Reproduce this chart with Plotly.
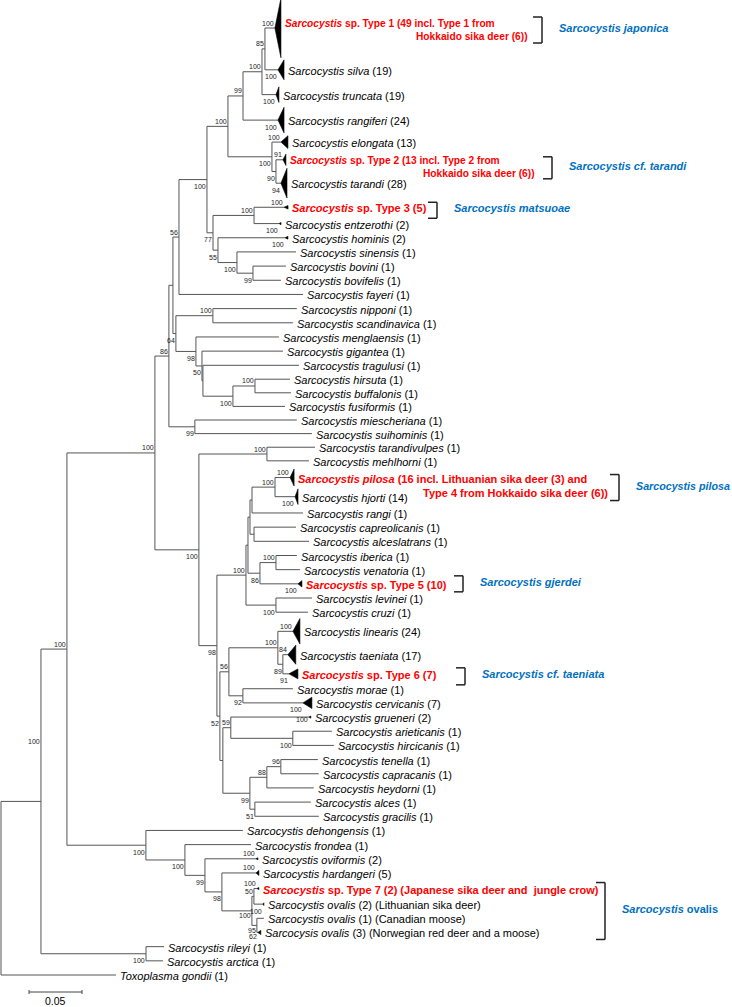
import plotly.graph_objects as go

# ---------------------------------------------------------------- tree data
node_ids = [
    "root", "I", "Toxo", "H", "RA", "rileyi", "arctica", "G", "J", "dehongensis",
    "K", "frondea", "L", "oviformis", "M", "hardangeri", "N", "TO", "Type7", "ovalis2",
    "CN", "ovalis1", "ovalis3", "F", "Q", "E", "MS", "miescheriana", "suihominis", "N56",
    "D", "X1", "fayeri", "N228", "N77", "N99", "NE", "N100a", "rangiferi", "N85",
    "truncata", "Type1", "silva", "elongata", "NT", "Type2", "tarandi", "N3E", "N55", "Type3",
    "entzerothi", "hominis", "NS", "sinensis", "NB", "bovini", "bovifelis", "NN", "C", "nipponi",
    "scandinavica", "menglaensis", "B", "gigantea", "A", "tragulusi", "HBF", "HB", "fusiformis", "hirsuta",
    "buffalonis", "TM", "R", "tarandivulpes", "mehlhorni", "S", "N52", "VW", "LC", "V",
    "W2", "T", "U", "PH", "rangi", "pilosa", "hjorti", "capreolicanis", "alceslatrans", "W",
    "Type5", "iberica", "venatoria", "levinei", "cruzi", "N56b", "X", "LT", "MC", "linearis",
    "TT6", "taeniata", "Type6", "morae", "cervicanis", "N59", "Y", "grueneri", "AH", "arieticanis",
    "hircicanis", "N88", "AG", "TC", "heydorni", "tenella", "capracanis", "alces", "gracilis",
]
parent_ids = [
    None, "root", "root", "I", "I", "RA", "RA", "H", "H", "J",
    "J", "K", "K", "L", "L", "M", "M", "N", "TO", "TO",
    "N", "CN", "CN", "G", "G", "F", "F", "MS", "MS", "E",
    "E", "N56", "N56", "X1", "X1", "N228", "N228", "N99", "N99", "N100a",
    "N100a", "N85", "N85", "NE", "NE", "NT", "NT", "N77", "N77", "N3E",
    "N3E", "N55", "N55", "NS", "NS", "NB", "NB", "D", "D", "NN",
    "NN", "C", "C", "B", "B", "A", "A", "HBF", "HBF", "HB",
    "HB", "Q", "Q", "TM", "TM", "R", "R", "S", "S", "VW",
    "VW", "V", "V", "T", "T", "PH", "PH", "U", "U", "W2",
    "W2", "W", "W", "LC", "LC", "N52", "N52", "N56b", "N56b", "LT",
    "LT", "TT6", "TT6", "MC", "MC", "X", "X", "N59", "N59", "AH",
    "AH", "Y", "Y", "N88", "N88", "TC", "TC", "AG", "AG",
]
branch_lengths = [
    0.0, 0.0377, 0.1085, 0.0245, 0.0991, 0.0170, 0.0160, 0.0830, 0.0745, 0.0915,
    0.0368, 0.0623, 0.0189, 0.0481, 0.0160, 0.0321, 0.0283, 0.0019, 0.0028, 0.0085,
    0.0047, 0.0066, 0.0009, 0.0132, 0.0415, 0.0038, 0.0245, 0.0962, 0.1104, 0.0057,
    0.0028, 0.0264, 0.1170, 0.0198, 0.0057, 0.0142, 0.0415, 0.0179, 0.0330, 0.0028,
    0.0132, 0.0094, 0.0123, 0.0085, 0.0038, 0.0066, 0.0047, 0.0387, 0.0047, 0.0283,
    0.0236, 0.0632, 0.0179, 0.0557, 0.0151, 0.0311, 0.0264, 0.0349, 0.0189, 0.0792,
    0.0755, 0.0783, 0.0057, 0.0764, 0.0009, 0.0906, 0.0283, 0.0208, 0.0491, 0.0330,
    0.0340, 0.0642, 0.0170, 0.0453, 0.0396, 0.0274, 0.0028, 0.0019, 0.0283, 0.0019,
    0.0113, 0.0019, 0.0038, 0.0217, 0.0481, 0.0142, 0.0189, 0.0396, 0.0519, 0.0151,
    0.0358, 0.0198, 0.0226, 0.0340, 0.0302, 0.0085, 0.0028, 0.0462, 0.0132, 0.0142,
    0.0047, 0.0047, 0.0057, 0.0472, 0.0566, 0.0075, 0.0255, 0.0736, 0.0585, 0.0368,
    0.0387, 0.0160, 0.0047, 0.0132, 0.0443, 0.0349, 0.0358, 0.0528, 0.0604,
]

# leaves, top to bottom
leaf_order = [
    "Type1", "silva", "truncata", "rangiferi", "elongata", "Type2", "tarandi", "Type3",
    "entzerothi", "hominis", "sinensis", "bovini", "bovifelis", "fayeri", "nipponi",
    "scandinavica", "menglaensis", "gigantea", "tragulusi", "hirsuta", "buffalonis",
    "fusiformis", "miescheriana", "suihominis", "tarandivulpes", "mehlhorni", "pilosa",
    "hjorti", "rangi", "capreolicanis", "alceslatrans", "iberica", "venatoria", "Type5",
    "levinei", "cruzi", "linearis", "taeniata", "Type6", "morae", "cervicanis", "grueneri",
    "arieticanis", "hircicanis", "tenella", "capracanis", "heydorni", "alces", "gracilis",
    "dehongensis", "frondea", "oviformis", "hardangeri", "Type7", "ovalis2", "ovalis1",
    "ovalis3", "rileyi", "arctica", "Toxo",
]
leaf_species = [
    "Sarcocystis", "Sarcocystis silva", "Sarcocystis truncata", "Sarcocystis rangiferi",
    "Sarcocystis elongata", "Sarcocystis", "Sarcocystis tarandi", "Sarcocystis",
    "Sarcocystis entzerothi", "Sarcocystis hominis", "Sarcocystis sinensis", "Sarcocystis bovini",
    "Sarcocystis bovifelis", "Sarcocystis fayeri", "Sarcocystis nipponi",
    "Sarcocystis scandinavica", "Sarcocystis menglaensis", "Sarcocystis gigantea",
    "Sarcocystis tragulusi", "Sarcocystis hirsuta", "Sarcocystis buffalonis",
    "Sarcocystis fusiformis", "Sarcocystis miescheriana", "Sarcocystis suihominis",
    "Sarcocystis tarandivulpes", "Sarcocystis mehlhorni", "Sarcocystis pilosa",
    "Sarcocystis hjorti", "Sarcocystis rangi", "Sarcocystis capreolicanis",
    "Sarcocystis alceslatrans", "Sarcocystis iberica", "Sarcocystis venatoria", "Sarcocystis",
    "Sarcocystis levinei", "Sarcocystis cruzi", "Sarcocystis linearis", "Sarcocystis taeniata",
    "Sarcocystis", "Sarcocystis morae", "Sarcocystis cervicanis", "Sarcocystis grueneri",
    "Sarcocystis arieticanis", "Sarcocystis hircicanis", "Sarcocystis tenella",
    "Sarcocystis capracanis", "Sarcocystis heydorni", "Sarcocystis alces", "Sarcocystis gracilis",
    "Sarcocystis dehongensis", "Sarcocystis frondea", "Sarcocystis oviformis",
    "Sarcocystis hardangeri", "Sarcocystis", "Sarcocystis ovalis", "Sarcocystis ovalis",
    "Sarcocysis ovalis", "Sarcocystis rileyi", "Sarcocystis arctica", "Toxoplasma gondii",
]
leaf_suffix = [
    " sp. Type 1 (49 incl. Type 1 from", " (19)", " (19)", " (24)", " (13)",
    " sp. Type 2 (13 incl. Type 2 from", " (28)", " sp. Type 3 (5)", " (2)", " (2)",
    " (1)", " (1)", " (1)", " (1)", " (1)", " (1)", " (1)", " (1)", " (1)", " (1)",
    " (1)", " (1)", " (1)", " (1)", " (1)", " (1)",
    " (16 incl. Lithuanian sika deer (3) and", " (14)", " (1)", " (1)", " (1)", " (1)",
    " (1)", " sp. Type 5 (10)", " (1)", " (1)", " (24)", " (17)", " sp. Type 6 (7)",
    " (1)", " (7)", " (2)", " (1)", " (1)", " (1)", " (1)", " (1)", " (1)", " (1)",
    " (1)", " (1)", " (2)", " (5)",
    " sp. Type 7 (2) (Japanese sika deer and\u00a0 jungle crow)",
    " (2) (Lithuanian sika deer)", " (1) (Canadian moose)",
    " (3) (Norwegian red deer and a moose)", " (1)", " (1)", " (1)",
]
red_leaves = ["Type1", "Type2", "Type3", "pilosa", "Type5", "Type6", "Type7"]
second_line_text = {
    "Type1": "Hokkaido sika deer (6))",
    "Type2": "Hokkaido sika deer (6))",
    "pilosa": "Type 4 from Hokkaido sika deer (6))",
}

# collapsed clades (triangles): depth of the collapsed clade
collapsed_ids = ["Type1", "silva", "truncata", "rangiferi", "elongata", "Type2", "tarandi",
                 "Type3", "entzerothi", "hominis", "pilosa", "hjorti", "Type5", "linearis",
                 "taeniata", "Type6", "cervicanis", "grueneri", "oviformis", "hardangeri",
                 "Type7", "ovalis2", "ovalis3"]
collapsed_depth = [0.0057, 0.0057, 0.0028, 0.0057, 0.0066, 0.0028, 0.0057,
                   0.0038, 0.0019, 0.0028, 0.0038, 0.0028, 0.0038, 0.0066,
                   0.0075, 0.0085, 0.0085, 0.0019, 0.0019, 0.0028,
                   0.0019, 0.0009, 0.0028]

# bootstrap support
support = {
    "Type1": 100, "silva": 100, "N85": 85, "truncata": 100, "N100a": 100, "N99": 99,
    "rangiferi": 100, "N228": 100, "elongata": 100, "NE": 100, "Type2": 91, "NT": 90,
    "tarandi": 94, "X1": 100, "Type3": 100, "N3E": 100, "entzerothi": 100, "N77": 77,
    "hominis": 100, "N55": 55, "NS": 100, "NB": 99, "N56": 56, "NN": 100, "D": 64,
    "C": 98, "B": 50, "HBF": 100, "HB": 100, "F": 86, "MS": 99, "G": 100, "TM": 100,
    "Q": 100, "pilosa": 100, "PH": 100, "hjorti": 100, "W": 100, "S": 100, "W2": 86,
    "Type5": 100, "LC": 100, "linearis": 100, "LT": 100, "taeniata": 84, "TT6": 89,
    "Type6": 91, "N56b": 56, "MC": 92, "cervicanis": 100, "R": 98, "grueneri": 100,
    "N59": 59, "AH": 100, "N52": 52, "TC": 96, "N88": 88, "Y": 99, "AG": 51, "H": 100,
    "J": 100, "K": 100, "oviformis": 100, "L": 99, "hardangeri": 100, "M": 98,
    "Type7": 100, "TO": 50, "ovalis2": 100, "N": 100, "CN": 95, "ovalis3": 62,
    "RA": 100, "I": 100,
}

group_names = ["Sarcocystis japonica", "Sarcocystis cf. tarandi", "Sarcocystis matsuoae",
               "Sarcocystis pilosa", "Sarcocystis gjerdei", "Sarcocystis cf. taeniata",
               "Sarcocystis ovalis"]
group_first = ["Type1", "Type2", "Type3", "pilosa", "Type5", "Type6", "Type7"]
group_last = ["Type1", "Type2", "Type3", "pilosa", "Type5", "Type6", "ovalis3"]

scale_bar_value = 0.05

# ---------------------------------------------------------------- display style
W_PX, H_PX = 732, 1007
PX_PER_UNIT = 1060.0          # horizontal scale (0.05 substitutions = 53 px)
FIRST_LEAF_PX, LAST_LEAF_PX = 28, 975
FONT = "Liberation Sans, Arial, sans-serif"
LINE_COLOR = "#555555"
RED = "#FF0000"
BLUE = "#0070C0"
GAP_PX = 4
label_size = {"Type1": 10.2, "Type2": 10.2}
row_weight = {"Type1": 4.2, "silva": 1.7, "truncata": 1.8, "rangiferi": 1.8, "elongata": 1.3,
              "Type2": 1.2, "tarandi": 2.1, "Type3": 1.3, "hirsuta": 0.96, "buffalonis": 0.96,
              "fusiformis": 0.96, "miescheriana": 0.96, "suihominis": 0.96,
              "tarandivulpes": 0.96, "mehlhorni": 0.96, "pilosa": 1.4, "hjorti": 1.3,
              "linearis": 1.7, "taeniata": 1.6, "Type6": 1.1, "Type7": 1.2}
tri_rows = {"Type1": 4.2, "silva": 1.4, "truncata": 1.1, "rangiferi": 1.8, "elongata": 0.9,
            "Type2": 0.8, "tarandi": 2.1, "Type3": 0.25, "entzerothi": 0.15, "hominis": 0.2,
            "pilosa": 1.2, "hjorti": 1.1, "Type5": 0.45, "linearis": 1.8, "taeniata": 1.35,
            "Type6": 0.7, "cervicanis": 0.8, "grueneri": 0.15, "oviformis": 0.15,
            "hardangeri": 0.35, "Type7": 0.15, "ovalis2": 0.2, "ovalis3": 0.3}
support_above = {"Type1", "N85", "N100a", "N99", "N228", "elongata", "Type2", "Type3", "N3E",
                 "N56", "NN", "HB", "F", "G", "TM", "pilosa", "PH", "W", "S", "linearis", "LT",
                 "taeniata", "N56b", "N59", "TC", "N88", "H", "oviformis", "hardangeri",
                 "Type7", "TO"}
support_dy_special = {"grueneri": 2, "CN": 5, "ovalis3": 4, "N": 5, "I": -60}
# two-line labels: (dy line1, dy line2, right edge of line2 from label start, px)
two_line_layout = {"Type1": (-5, 8, 243), "Type2": (1, 14, 245), "pilosa": (1.5, 15.5, 310)}
# brackets: (top dy px, bottom dy px, bracket x px, group-label font size)
bracket_layout = [(-11, 15, 542, 11), (-3, 19, 552, 11), (-5, 11, 437, 11),
                  (-3, 23, 619, 10.7), (-8, 8, 463, 11), (-6, 11, 465, 11), (-6, 7, 605, 11)]

# ---------------------------------------------------------------- layout computation
parent = dict(zip(node_ids, parent_ids))
blen = dict(zip(node_ids, branch_lengths))
children = {}
for n, p in zip(node_ids, parent_ids):
    if p is not None:
        children.setdefault(p, []).append(n)
cdepth = dict(zip(collapsed_ids, collapsed_depth))

xpos = {}


def getx(n):
    if n not in xpos:
        p = parent[n]
        xpos[n] = 0.0 if p is None else getx(p) + blen[n]
    return xpos[n]


for n in node_ids:
    getx(n)

ypos = {}
acc = 0.0
for lid in leaf_order:
    w = row_weight.get(lid, 1.0)
    ypos[lid] = acc + w / 2
    acc += w


def gety(n):
    if n not in ypos:
        ys = [gety(c) for c in children[n]]
        ypos[n] = (min(ys) + max(ys)) / 2
    return ypos[n]


gety("root")

c0 = ypos[leaf_order[0]]
c1 = ypos[leaf_order[-1]]
S_PX = (LAST_LEAF_PX - FIRST_LEAF_PX) / (c1 - c0)   # px per row


def row_at_px(px):
    return c0 + (px - FIRST_LEAF_PX) / S_PX


def px2x(px):
    return (px - 1) / PX_PER_UNIT


def drow(n):
    return n / S_PX


# ---------------------------------------------------------------- traces
lx, ly = [], []
for n in node_ids:
    p = parent[n]
    if p is not None:
        lx += [xpos[p], xpos[n], None]
        ly += [ypos[n], ypos[n], None]
    if n in children:
        ys = [ypos[c] for c in children[n]]
        lx += [xpos[n], xpos[n], None]
        ly += [min(ys), max(ys), None]

tx, ty = [], []
for lid in collapsed_ids:
    x0, y0 = xpos[lid], ypos[lid]
    h = tri_rows[lid] / 2
    x1 = x0 + cdepth[lid]
    tx += [x0, x1, x1, x0, None]
    ty += [y0, y0 - h, y0 + h, y0, None]

fig = go.Figure()
fig.add_trace(go.Scatter(x=lx, y=ly, mode="lines", line=dict(color=LINE_COLOR, width=1),
                         hoverinfo="skip", connectgaps=False))
fig.add_trace(go.Scatter(x=tx, y=ty, mode="lines", fill="toself", fillcolor="black",
                         line=dict(color="black", width=0.6), hoverinfo="skip"))

annotations = []


def add_text(x, y, text, size, color, xanchor, xshift=0.0, yshift=0.0):
    annotations.append(dict(x=x, y=y, xref="x", yref="y", text=text, showarrow=False,
                            xanchor=xanchor, yanchor="middle", xshift=xshift, yshift=yshift,
                            borderpad=0, borderwidth=0,
                            font=dict(family=FONT, size=size, color=color)))


# leaf labels
for lid, sp, suf in zip(leaf_order, leaf_species, leaf_suffix):
    tip = xpos[lid] + cdepth.get(lid, 0.0)
    txt = "<i>%s</i>%s" % (sp, suf)
    if lid in red_leaves:
        txt = "<b>%s</b>" % txt
        col = RED
    else:
        col = "black"
    fs = label_size.get(lid, 11)
    if lid in second_line_text:
        d1, d2, right = two_line_layout[lid]
        add_text(tip, ypos[lid], txt, fs, col, "left", xshift=GAP_PX, yshift=-d1)
        add_text(tip, ypos[lid], "<b>%s</b>" % second_line_text[lid], fs, col, "right",
                 xshift=GAP_PX + right, yshift=-d2)
    else:
        add_text(tip, ypos[lid], txt, fs, col, "left", xshift=GAP_PX, yshift=-1)

# support values
for n, v in support.items():
    if n in support_dy_special:
        dy = support_dy_special[n]
    elif n in support_above:
        dy = -5
    else:
        dy = 7
    add_text(xpos[n], ypos[n], str(v), 7, "#222222", "right", xshift=-1, yshift=-dy)

# brackets and group names
shapes = []
for name, first, last, (dtop, dbot, bx, gfs) in zip(group_names, group_first, group_last,
                                                    bracket_layout):
    ytop = ypos[first] + drow(dtop)
    ybot = ypos[last] + drow(dbot)
    xb = px2x(bx)
    xt = px2x(bx - 9)
    for (xa, ya, xb2, yb2) in [(xt, ytop, xb, ytop), (xb, ytop, xb, ybot), (xt, ybot, xb, ybot)]:
        shapes.append(dict(type="line", xref="x", yref="y", x0=xa, y0=ya, x1=xb2, y1=yb2,
                           line=dict(color="#222222", width=1.5)))
    if name.endswith("ovalis"):
        gtxt = "<b><i>Sarcocystis</i> ovalis</b>"
    else:
        gtxt = "<b><i>%s</i></b>" % name
    add_text(xb, (ytop + ybot) / 2, gtxt, gfs, BLUE, "left", xshift=17, yshift=2)

# scale bar
sb_x0 = px2x(29)
sb_x1 = sb_x0 + scale_bar_value
sb_y = row_at_px(992)
shapes.append(dict(type="line", xref="x", yref="y", x0=sb_x0, x1=sb_x1, y0=sb_y, y1=sb_y,
                   line=dict(color="#444444", width=1)))
for xe in (sb_x0, sb_x1):
    shapes.append(dict(type="line", xref="x", yref="y", x0=xe, x1=xe,
                       y0=sb_y - drow(2), y1=sb_y + drow(2),
                       line=dict(color="#444444", width=1)))
add_text((sb_x0 + sb_x1) / 2, row_at_px(1001), "%.2f" % scale_bar_value, 10.5, "black", "center")

fig.update_layout(
    width=W_PX, height=H_PX,
    margin=dict(l=0, r=0, t=0, b=0),
    paper_bgcolor="white", plot_bgcolor="white",
    showlegend=False, hovermode=False,
    xaxis=dict(range=[px2x(0), px2x(W_PX)], visible=False, fixedrange=True),
    yaxis=dict(range=[row_at_px(H_PX), row_at_px(0)], visible=False, fixedrange=True),
    annotations=annotations, shapes=shapes,
)

fig.write_html("out.html", config={"displayModeBar": False},
               post_script="document.body.style.margin='0px';document.body.style.overflow='hidden';")
